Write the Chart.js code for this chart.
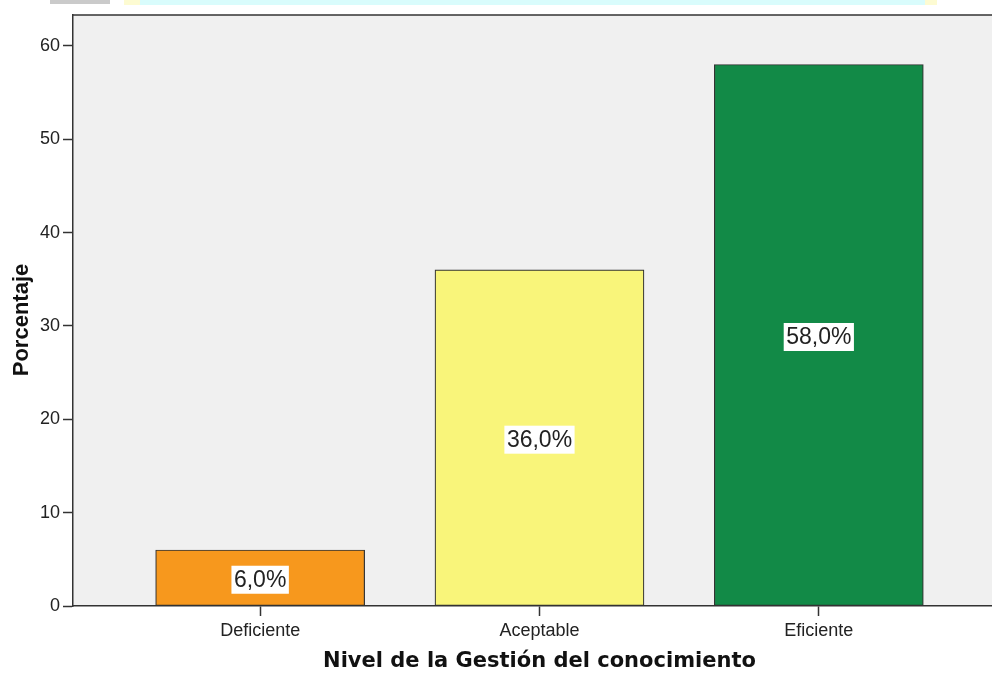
<!DOCTYPE html>
<html>
<head>
<meta charset="utf-8">
<script src="https://cdn.jsdelivr.net/npm/chart.js@4.4.0/dist/chart.umd.min.js"></script>
<style>
  html, body { margin: 0; padding: 0; background: #fff; overflow: hidden; }
  #wrap { position: relative; width: 992px; height: 673px; }
  .strip { position: absolute; top: 0; height: 5px; }
</style>
</head>
<body>
<div id="wrap">
  <div class="strip" style="left:50px;width:60px;background:#cacaca;height:4px"></div>
  <div class="strip" style="left:124px;width:16px;background:#fdfbd2"></div>
  <div class="strip" style="left:140px;width:785px;background:#d9fcfc"></div>
  <div class="strip" style="left:925px;width:12px;background:#fdfbd2"></div>
  <canvas id="barChart" width="992" height="673"></canvas>
</div>
<script>
// niveles y porcentajes
const categories = ['Deficiente', 'Aceptable', 'Eficiente'];
const percentages = [6.0, 36.0, 58.0];
const barColors = ['#f7981d', '#f9f57a', '#128a47'];
const yTicks = [0, 10, 20, 30, 40, 50, 60];

const xTitle = 'Nivel de la Gestión del conocimiento';
const yTitle = 'Porcentaje';

const FONT = '"Liberation Sans", Arial, sans-serif';

const plotBackground = {
  id: 'plotBackground',
  beforeDraw(chart) {
    const { ctx, chartArea: a } = chart;
    ctx.save();
    ctx.fillStyle = '#f0f0f0';
    ctx.fillRect(a.left, a.top, a.right - a.left, a.bottom - a.top);
    ctx.strokeStyle = '#333';
    ctx.lineWidth = 1.5;
    ctx.beginPath();
    ctx.moveTo(a.left, a.top);
    ctx.lineTo(a.right, a.top);
    ctx.stroke();
    ctx.restore();
  }
};

// etiquetas blancas con el porcentaje dentro de cada barra
const valueBoxes = {
  id: 'valueBoxes',
  afterDatasetsDraw(chart) {
    const { ctx } = chart;
    const meta = chart.getDatasetMeta(0);
    ctx.save();
    ctx.font = '23px ' + FONT;
    ctx.textAlign = 'center';
    ctx.textBaseline = 'middle';
    meta.data.forEach((bar, i) => {
      const text = percentages[i].toFixed(1).replace('.', ',') + '%';
      const y = (bar.y + bar.base) / 2 + 2;
      const w = ctx.measureText(text).width + 5;
      ctx.fillStyle = '#fff';
      ctx.fillRect(bar.x - w / 2, y - 14, w, 28);
      ctx.fillStyle = '#222';
      ctx.fillText(text, bar.x, y + 1);
    });
    ctx.restore();
  }
};

// titulos de ejes dibujados a mano para centrarlos como en SPSS
const axisTitles = {
  id: 'axisTitles',
  afterDraw(chart) {
    const { ctx, scales } = chart;
    ctx.save();
    ctx.fillStyle = '#111';
    ctx.textAlign = 'center';
    ctx.textBaseline = 'middle';
    ctx.font = 'bold 21px "DejaVu Sans", sans-serif';
    ctx.fillText(xTitle, scales.x.getPixelForValue(1), 662);
    ctx.font = 'bold 22px ' + FONT;
    ctx.translate(22, 320);
    ctx.rotate(-Math.PI / 2);
    ctx.fillText(yTitle, 0, 0);
    ctx.restore();
  }
};

new Chart(document.getElementById('barChart').getContext('2d'), {
  type: 'bar',
  data: {
    datasets: [{
      data: percentages.map((v, i) => ({ x: i, y: v })),
      backgroundColor: barColors,
      borderColor: '#333',
      borderWidth: 1.2,
      borderSkipped: false,
      barThickness: 209
    }]
  },
  options: {
    responsive: false,
    animation: false,
    layout: { padding: { top: 15, left: 0, right: 0, bottom: 0 } },
    plugins: { legend: { display: false }, tooltip: { enabled: false } },
    scales: {
      x: {
        type: 'linear',
        min: -0.67,
        max: 2.62,
        offset: false,
        afterBuildTicks: s => { s.ticks = categories.map((c, i) => ({ value: i })); },
        afterFit: s => { s.height = 67; },
        ticks: {
          callback: v => categories[v],
          color: '#222',
          font: { family: FONT, size: 18 },
          padding: 4,
          maxRotation: 0,
          autoSkip: false
        },
        grid: { offset: false, drawOnChartArea: false, tickLength: 10, color: '#333', tickWidth: 1.5 },
        border: { color: '#333', width: 1.5 }
      },
      y: {
        min: 0,
        max: 63.3,
        afterBuildTicks: s => { s.ticks = yTicks.map(v => ({ value: v })); },
        afterFit: s => { s.width = 73; },
        ticks: {
          color: '#222',
          font: { family: FONT, size: 18 },
          padding: 3
        },
        grid: { drawOnChartArea: false, tickLength: 10, color: '#333', tickWidth: 1.5 },
        border: { color: '#333', width: 1.5 }
      }
    }
  },
  plugins: [plotBackground, valueBoxes, axisTitles]
});
</script>
</body>
</html>
